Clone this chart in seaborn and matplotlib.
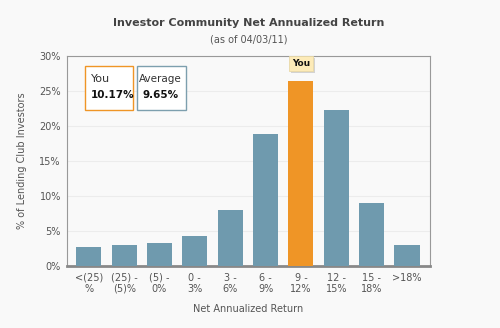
import matplotlib
matplotlib.use("Agg")
import matplotlib.pyplot as plt
from matplotlib.patches import Rectangle
import matplotlib.patheffects as pe
import seaborn as sns
import pandas as pd

categories = ["<(25)\n%", "(25) -\n(5)%", "(5) -\n0%", "0 -\n3%", "3 -\n6%",
              "6 -\n9%", "9 -\n12%", "12 -\n15%", "15 -\n18%", ">18%"]
values = [2.6, 3.0, 3.2, 4.3, 7.9, 18.8, 26.4, 22.3, 9.0, 2.9]
group = ["Community"] * 6 + ["You"] + ["Community"] * 3
yticks = [0, 5, 10, 15, 20, 25, 30]
ytick_labels = ["0%", "5%", "10%", "15%", "20%", "25%", "30%"]
you_value = "10.17%"
avg_value = "9.65%"

df = pd.DataFrame({"cat": categories, "val": values, "grp": group})

sns.set_theme(style="white")
plt.rcParams['font.family'] = ['DejaVu Sans']

BG = "#f9f9f9"
fig = plt.figure(figsize=(5.0, 3.28), dpi=100, facecolor=BG)
ax = fig.add_axes([0.133, 0.190, 0.727, 0.640])
ax.set_facecolor(BG)

sns.barplot(data=df, x="cat", y="val", hue="grp",
            palette={"Community": "#6f9aae", "You": "#ef9526"},
            saturation=1, linewidth=0, edgecolor="none",
            dodge=False, width=0.71, legend=False, ax=ax, zorder=3)

ax.set_ylim(0, 30)
ax.set_xlim(-0.63, 9.65)
ax.set_yticks(yticks)
ax.set_yticklabels(ytick_labels)
ax.yaxis.grid(True, color="#ececec", linewidth=0.8, zorder=0)
ax.tick_params(axis="both", length=0, labelsize=7, colors="#555555", pad=4)
ax.tick_params(axis="x", pad=5)
for lab in ax.get_xticklabels():
    lab.set_linespacing(1.15)

for s in ["top", "right", "left"]:
    ax.spines[s].set_color("#999999")
    ax.spines[s].set_linewidth(0.8)
ax.spines["bottom"].set_color("#888888")
ax.spines["bottom"].set_linewidth(2.0)

ax.set_xlabel("Net Annualized Return", fontsize=7, color="#555555", labelpad=7)
ax.set_ylabel("% of Lending Club Investors", fontsize=7, color="#555555", labelpad=9)

fig.text(0.497, 0.930, "Investor Community Net Annualized Return", ha="center",
         va="center", fontsize=8, fontweight="bold", color="#444444")
fig.text(0.497, 0.880, "(as of 04/03/11)", ha="center", va="center",
         fontsize=7, color="#555555")

# legend-like boxes
ax.add_patch(Rectangle((0.050, 0.741), 0.133, 0.210, transform=ax.transAxes,
                       facecolor="white", edgecolor="#ef9526", linewidth=1.0, zorder=5))
ax.add_patch(Rectangle((0.194, 0.741), 0.134, 0.210, transform=ax.transAxes,
                       facecolor="white", edgecolor="#7d9fae", linewidth=1.0, zorder=5))
ax.text(0.067, 0.888, "You", transform=ax.transAxes, fontsize=8, color="#333333",
        va="center", ha="left", zorder=6)
ax.text(0.067, 0.813, you_value, transform=ax.transAxes, fontsize=7.5, color="#111111",
        fontweight="bold", va="center", ha="left", zorder=6)
ax.text(0.198, 0.888, "Average", transform=ax.transAxes, fontsize=7.5, color="#333333",
        va="center", ha="left", zorder=6)
ax.text(0.210, 0.813, avg_value, transform=ax.transAxes, fontsize=7.5, color="#111111",
        fontweight="bold", va="center", ha="left", zorder=6)

you_idx = group.index("You")
tag = ax.annotate("You", xy=(you_idx, values[you_idx]), xytext=(0, 12.5),
                  textcoords="offset points", ha="center", va="center",
                  fontsize=6.5, fontweight="bold", color="#111111", zorder=7,
                  bbox=dict(boxstyle="square,pad=0.35", facecolor="#fdebb8",
                            edgecolor="#e8d9a8", linewidth=0.6))
tag.get_bbox_patch().set_path_effects([pe.SimplePatchShadow(offset=(1.5, -1.5),
                                                            shadow_rgbFace="#bbbbbb",
                                                            alpha=0.6), pe.Normal()])

fig.savefig("out.png", dpi=100, facecolor=BG)
